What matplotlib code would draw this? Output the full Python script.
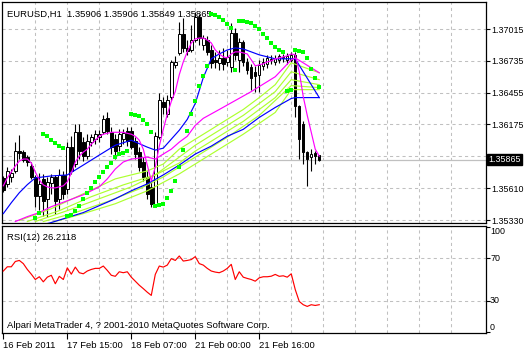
import matplotlib
matplotlib.use('Agg')
import matplotlib.pyplot as plt
import numpy as np

plt.rcParams['font.family'] = ['Liberation Sans', 'DejaVu Sans']

# EURUSD H1 candles, bar 0 = 16 Feb 2011 23:00
opens = [1.35703, 1.35650, 1.35711, 1.35764, 1.35939, 1.35930, 1.35886, 1.35808, 1.35711, 1.35545,
         1.35694, 1.35519, 1.35659, 1.35711, 1.35519, 1.35729, 1.35606, 1.35974, 1.35825, 1.36105,
         1.36018, 1.35895, 1.36018, 1.36044, 1.36061, 1.36105, 1.36228, 1.36105, 1.36044, 1.35983,
         1.36044, 1.36114, 1.36114, 1.36026, 1.35930, 1.35843, 1.35711, 1.35624, 1.35475, 1.36061,
         1.36368, 1.36263, 1.36420, 1.36700, 1.36805, 1.36971, 1.36849, 1.36831, 1.36919, 1.37120,
         1.36875, 1.36919, 1.36831, 1.36744, 1.36718, 1.36761, 1.36726, 1.36683, 1.36980, 1.36744,
         1.36901, 1.36726, 1.36683, 1.36639, 1.36613, 1.36691, 1.36709, 1.36744, 1.36726, 1.36744,
         1.36761, 1.36744, 1.36744, 1.36788, 1.36333, 1.36175, 1.35930, 1.35886, 1.35921, 1.35906]
highs = [1.35720, 1.35799, 1.35781, 1.36018, 1.36079, 1.35948, 1.35904, 1.35843, 1.35729, 1.35746,
         1.35738, 1.35711, 1.35738, 1.35729, 1.35781, 1.35764, 1.36018, 1.36070, 1.36175, 1.36175,
         1.36061, 1.36088, 1.36088, 1.36123, 1.36123, 1.36254, 1.36280, 1.36149, 1.36088, 1.36131,
         1.36131, 1.36149, 1.36149, 1.36061, 1.35974, 1.35886, 1.35764, 1.35668, 1.36105, 1.36455,
         1.36420, 1.36438, 1.36744, 1.36779, 1.37076, 1.37111, 1.36919, 1.37050, 1.37164, 1.37147,
         1.36963, 1.36954, 1.36875, 1.36814, 1.36831, 1.36849, 1.36831, 1.37068, 1.37024, 1.36936,
         1.36919, 1.36761, 1.36709, 1.36691, 1.36744, 1.36761, 1.36788, 1.36788, 1.36788, 1.36796,
         1.36796, 1.36805, 1.36814, 1.36814, 1.36350, 1.36201, 1.35939, 1.35956, 1.35939, 1.35906]
lows = [1.35580, 1.35624, 1.35668, 1.35746, 1.35869, 1.35843, 1.35808, 1.35694, 1.35449, 1.35423,
        1.35370, 1.35361, 1.35563, 1.35388, 1.35431, 1.35519, 1.35563, 1.35738, 1.35799, 1.35869,
        1.35851, 1.35869, 1.35983, 1.36000, 1.36018, 1.36088, 1.36088, 1.35913, 1.35869, 1.35939,
        1.36000, 1.35983, 1.35956, 1.35869, 1.35764, 1.35676, 1.35519, 1.35449, 1.35449, 1.36044,
        1.36263, 1.36236, 1.36394, 1.36674, 1.36788, 1.36814, 1.36788, 1.36814, 1.36901, 1.36875,
        1.36831, 1.36788, 1.36674, 1.36674, 1.36656, 1.36656, 1.36691, 1.36639, 1.36744, 1.36639,
        1.36691, 1.36621, 1.36481, 1.36464, 1.36464, 1.36656, 1.36674, 1.36709, 1.36700, 1.36718,
        1.36726, 1.36709, 1.36726, 1.36236, 1.35869, 1.35825, 1.35633, 1.35764, 1.35825, 1.35849]
closes = [1.35598, 1.35764, 1.35746, 1.35939, 1.35921, 1.35860, 1.35843, 1.35711, 1.35545, 1.35650,
          1.35501, 1.35668, 1.35711, 1.35501, 1.35729, 1.35563, 1.35974, 1.35764, 1.36105, 1.35939,
          1.35895, 1.36026, 1.36061, 1.36088, 1.36088, 1.36219, 1.36114, 1.35974, 1.35939, 1.36088,
          1.36096, 1.36026, 1.35974, 1.35913, 1.35799, 1.35711, 1.35563, 1.35475, 1.36070, 1.36394,
          1.36324, 1.36394, 1.36726, 1.36726, 1.36971, 1.36849, 1.36823, 1.36919, 1.37120, 1.36936,
          1.36936, 1.36814, 1.36718, 1.36726, 1.36761, 1.36709, 1.36770, 1.36980, 1.36788, 1.36901,
          1.36726, 1.36656, 1.36586, 1.36604, 1.36700, 1.36726, 1.36761, 1.36753, 1.36761, 1.36779,
          1.36770, 1.36779, 1.36788, 1.36333, 1.36044, 1.35930, 1.35869, 1.35913, 1.35895, 1.35865]

nan = float('nan')
sar = [nan, nan, nan, nan, nan, nan, nan, nan, 1.35353, 1.35397,
       1.36088, 1.36070, 1.36035, 1.36009, 1.35983, 1.35965, 1.35370, 1.35379, 1.35414, 1.35458,
       1.35519, 1.35572, 1.35615, 1.35668, 1.35711, 1.35755, 1.35799, 1.35834, 1.35886, 1.35913,
       1.35921, 1.35939, 1.36263, 1.36254, 1.36245, 1.36210, 1.36175, 1.36105, 1.35458, 1.35467,
       1.35475, 1.35528, 1.35589, 1.35676, 1.35799, 1.35948, 1.36114, 1.36263, 1.36385, 1.36517,
       1.36604, 1.36691, 1.37147, 1.37138, 1.37120, 1.37094, 1.37059, 1.37024, 1.36656, 1.37085,
       1.37085, 1.37076, 1.37068, 1.37041, 1.37015, 1.36971, 1.36936, 1.36893, 1.36858, 1.36831,
       1.36814, 1.36473, 1.36481, 1.36831, 1.36823, 1.36814, 1.36761, 1.36665, 1.36586, 1.36508]

ma_fast = [1.35633, 1.35703, 1.35755, 1.35808, 1.35851, 1.35869, 1.35869, 1.35834, 1.35755, 1.35685,
           1.35641, 1.35624, 1.35615, 1.35615, 1.35624, 1.35633, 1.35668, 1.35746, 1.35843, 1.35895,
           1.35930, 1.35956, 1.36000, 1.36035, 1.36070, 1.36088, 1.36096, 1.36105, 1.36105, 1.36105,
           1.36105, 1.36096, 1.36088, 1.36070, 1.36035, 1.35956, 1.35816, 1.35676, 1.35799, 1.35983,
           1.36131, 1.36263, 1.36376, 1.36464, 1.36613, 1.36726, 1.36814, 1.36893, 1.36928, 1.36936,
           1.36936, 1.36919, 1.36893, 1.36831, 1.36796, 1.36770, 1.36761, 1.36796, 1.36814, 1.36814,
           1.36805, 1.36796, 1.36744, 1.36691, 1.36700, 1.36709, 1.36726, 1.36735, 1.36753, 1.36761,
           1.36770, 1.36779, 1.36796, 1.36788, 1.36639, 1.36420, 1.36254, 1.36105, 1.35956, 1.35895]

blue_up_bars = [0, 2, 4, 6, 8, 12, 16, 20, 24, 28, 32, 36, 38, 40, 42, 44, 46, 48, 50, 52, 54, 56, 58, 60, 64, 68, 72, 73, 79]
blue_up = [1.35388, 1.35484, 1.35572, 1.35643, 1.35703, 1.35720, 1.35729, 1.35816, 1.35904, 1.35991,
           1.36035, 1.35974, 1.35948, 1.35965, 1.36044, 1.36123, 1.36219, 1.36359, 1.36587, 1.36753,
           1.36796, 1.36831, 1.36849, 1.36840, 1.36788, 1.36753, 1.36753, 1.36753, 1.36411]

blue_low_bars = [8, 12, 16, 20, 24, 28, 32, 36, 40, 44, 48, 52, 56, 60, 64, 68, 72, 73, 79]
blue_low = [1.35274, 1.35309, 1.35353, 1.35397, 1.35458, 1.35519, 1.35589, 1.35650, 1.35729, 1.35816,
            1.35913, 1.35983, 1.36070, 1.36131, 1.36236, 1.36324, 1.36403, 1.36411, 1.36411]

ma_slow_bars = [3, 6, 9, 12, 16, 20, 24, 26, 28, 30, 32, 36, 38, 40, 42, 44, 46, 48, 50, 54, 58, 62, 64, 68, 72, 73, 79]
ma_slow = [1.35318, 1.35361, 1.35397, 1.35449, 1.35501, 1.35554, 1.35624, 1.35694, 1.35781, 1.35843,
           1.35869, 1.35886, 1.35869, 1.35913, 1.35956, 1.36018, 1.36070, 1.36166, 1.36228, 1.36306,
           1.36385, 1.36464, 1.36508, 1.36595, 1.36744, 1.36761, 1.36630]

ribbon = [
    ([4, 12, 20, 28, 36, 40, 44, 48, 52, 56, 60, 64, 68, 72, 79],
     [1.35327, 1.35431, 1.35563, 1.35694, 1.35764, 1.35825, 1.35956, 1.36044, 1.36131, 1.36219,
      1.36306, 1.36411, 1.36525, 1.36718, 1.36630]),
    ([6, 14, 22, 30, 38, 44, 48, 52, 56, 60, 64, 68, 72, 79],
     [1.35318, 1.35414, 1.35537, 1.35641, 1.35729, 1.35886, 1.35991, 1.36079, 1.36166, 1.36254,
      1.36359, 1.36464, 1.36639, 1.36569]),
    ([8, 16, 24, 32, 40, 44, 48, 52, 56, 60, 64, 68, 72, 79],
     [1.35318, 1.35414, 1.35519, 1.35624, 1.35764, 1.35834, 1.35939, 1.36026, 1.36114, 1.36201,
      1.36306, 1.36411, 1.36569, 1.36525]),
    ([10, 18, 26, 34, 40, 48, 56, 64, 72, 79],
     [1.35318, 1.35397, 1.35493, 1.35606, 1.35711, 1.35886, 1.36061, 1.36254, 1.36517, 1.36499]),
    ([12, 20, 28, 36, 44, 52, 60, 68, 72, 79],
     [1.35309, 1.35388, 1.35475, 1.35589, 1.35738, 1.35913, 1.36088, 1.36280, 1.36481, 1.36481]),
]

rsi = [58, 62, 62, 67, 68, 65, 59.5, 55, 50, 52.6, 47.8, 52.2, 54, 46, 53, 50, 61, 55, 61.7, 56.4,
       55.4, 58, 59.5, 60.5, 60.5, 62.7, 58.6, 54, 53, 57.3, 56.4, 57.3, 52.2, 48.4, 44.6, 41.4, 38, 35, 54.8, 62.7,
       61.7, 63.6, 69.7, 68, 72.2, 67.4, 68, 68.8, 71.6, 65, 63.6, 60.5, 58, 57, 56.4, 58, 60.5, 64.3, 50, 57.3,
       52.2, 51, 50, 48.4, 51.6, 52.6, 52.6, 53.1, 54.8, 53, 53.5, 52.2, 55.4, 40.5, 29.3, 26.2, 24.6, 26.2, 25.5, 26.21]

price_ticks = [1.35330, 1.35610, 1.35895, 1.36175, 1.36455, 1.36735, 1.37015]
price_labels = ['1.35330', '1.35610', '', '1.36175', '1.36455', '1.36735', '1.37015']
date_bars = [0, 16, 32, 48, 64]
date_labels = ['16 Feb 2011', '17 Feb 15:00', '18 Feb 07:00', '21 Feb 00:00', '21 Feb 16:00']

FS = 6.8
FS_AX = 6.4
GRID = dict(color='#c0c0c0', lw=0.75, ls=(0, (3, 3)), zorder=0)

fig = plt.figure(figsize=(5.24, 3.51), dpi=100)
ax = fig.add_axes([2/524, 1-223/351, 484/524, 221/351])
ax2 = fig.add_axes([2/524, 1-333/351, 484/524, 107/351])

xlim = (-0.33, 120.7)
for a in (ax, ax2):
    a.set_xlim(*xlim)
    for k in range(8, 120, 8):
        a.axvline(k, **GRID)
    for s in a.spines.values():
        s.set_linewidth(0.9)

# price panel
ax.set_ylim(1.35305, 1.37254)
for p in price_ticks:
    ax.axhline(p, **GRID)
ax.axhline(closes[-1], color='#c0c0c0', lw=0.9, zorder=0.5)

x = np.arange(len(opens))
o = np.array(opens); c = np.array(closes)
ax.vlines(x, lows, highs, color='black', lw=0.8, zorder=2)
bull = c >= o
body = np.maximum(np.abs(c - o), 0.00002)
ax.bar(x[bull], body[bull], bottom=o[bull], width=0.62, color='white', edgecolor='black', lw=0.7, zorder=3)
ax.bar(x[~bull], body[~bull], bottom=c[~bull], width=0.62, color='black', edgecolor='black', lw=0.7, zorder=3)

lw = 0.85
for bars, vals in ribbon:
    ax.plot(bars, vals, color='#adff2f', lw=lw, zorder=4)
ax.plot(blue_low_bars, blue_low, color='#0000ff', lw=lw, zorder=4)
ax.plot(blue_up_bars, blue_up, color='#0000ff', lw=lw, zorder=4)
ax.plot(ma_slow_bars, ma_slow, color='#ff00ff', lw=lw, zorder=4)
ax.plot(x, ma_fast, color='#ff00ff', lw=lw, zorder=4)
ax.plot(x, sar, 's', color='#00ff00', ms=2.6, mew=0, zorder=5)

ax.set_xticks([])
ax.yaxis.tick_right()
ax.set_yticks(price_ticks)
ax.set_yticklabels(price_labels)
ax.tick_params(axis='y', length=3, width=0.8, pad=0.8, labelsize=FS_AX)
ax.text(1.0045, closes[-1], '%.5f' % closes[-1], transform=ax.get_yaxis_transform(),
        ha='left', va='center', color='white', fontsize=FS_AX,
        bbox=dict(boxstyle='square,pad=0.15', fc='black', ec='black'))
ax.text(5/484, 0.965, 'EURUSD,H1  %.5f %.5f %.5f %.5f' % (opens[-1], highs[-1], lows[-1], closes[-1]),
        transform=ax.transAxes, ha='left', va='top', fontsize=FS)

# RSI panel
ax2.set_ylim(-0.5, 100.5)
for v in (30, 70):
    ax2.axhline(v, **GRID)
ax2.plot(x, rsi, color='#ff0000', lw=0.85, zorder=3)
ax2.yaxis.tick_right()
ax2.set_yticks([0, 30, 70, 100])
ax2.set_yticklabels([])
ax2.tick_params(axis='y', length=3, width=0.8)
for v, s in [(95.5, '100'), (70, '70'), (30, '30'), (5, '0')]:
    ax2.text(1.0083, v, s, transform=ax2.get_yaxis_transform(), ha='left', va='center', fontsize=FS_AX)
ax2.set_xticks(date_bars)
ax2.set_xticklabels(date_labels, ha='left', fontsize=FS)
ax2.tick_params(axis='x', length=4, width=0.8, pad=1.5)
ax2.text(5/484, 0.93, 'RSI(12) 26.2118', transform=ax2.transAxes, ha='left', va='top', fontsize=FS)
ax2.text(5/484, 0.03, 'Alpari MetaTrader 4, ? 2001-2010 MetaQuotes Software Corp.',
         transform=ax2.transAxes, ha='left', va='bottom', fontsize=FS)

fig.savefig('out.png', dpi=100, facecolor='white')
